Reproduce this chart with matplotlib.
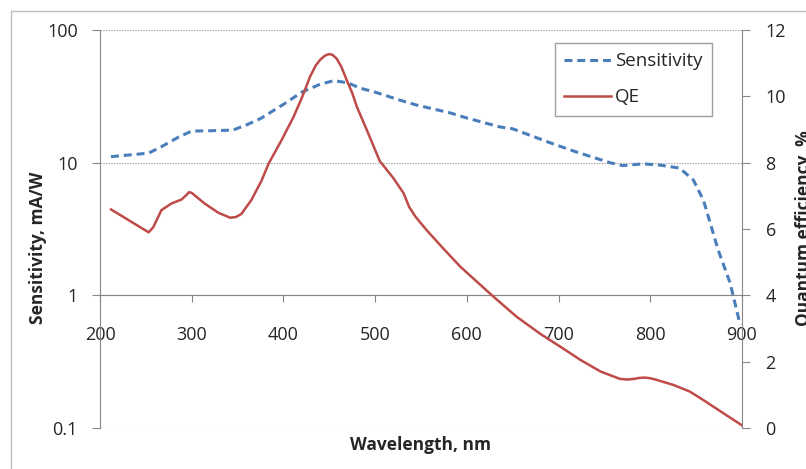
import matplotlib
matplotlib.use("Agg")
import matplotlib.pyplot as plt
from matplotlib.patches import Rectangle
from matplotlib.lines import Line2D

plt.rcParams['font.family'] = ['Open Sans', 'DejaVu Sans']

# Sensitivity (mA/W), left log axis
wl_sens = [212, 253, 267, 285, 300, 320, 345, 360, 375, 400, 420, 440, 455, 470, 484,
           500, 527, 545, 582, 600, 636, 650, 691, 720, 756, 770, 792, 810, 832, 847,
           858, 874, 887, 898]
sens = [11.1, 11.8, 13.2, 15.5, 17.3, 17.4, 17.6, 19.3, 21.5, 27.5, 34.0, 39.0, 41.5, 40.0, 36.4,
        34.0, 29.6, 27.2, 23.7, 21.7, 18.6, 18.0, 14.1, 12.0, 10.0, 9.5, 9.8, 9.6, 9.1, 7.4,
        5.2, 2.2, 1.24, 0.6]

# Quantum efficiency (%), right linear axis
wl_qe = [212, 253, 258, 267, 278, 289, 294, 297, 300, 303, 314, 329, 342, 348, 354, 365, 376, 384,
         398, 411, 420, 429, 435, 440, 445, 449, 453, 458, 463, 469, 475, 480, 486, 491, 505, 520,
         531, 537, 544, 556, 574, 593, 611, 629, 654, 680, 702, 724, 746, 767, 775, 782, 788, 794,
         800, 807, 825, 843, 858, 880, 900]
qe = [6.59, 5.90, 6.05, 6.57, 6.77, 6.89, 7.02, 7.11, 7.09, 7.02, 6.77, 6.49, 6.34, 6.36, 6.45,
      6.87, 7.45, 7.98, 8.68, 9.38, 9.95, 10.59, 10.92, 11.10, 11.22, 11.27, 11.26, 11.14, 10.90,
      10.49, 10.10, 9.69, 9.30, 8.98, 8.05, 7.53, 7.08, 6.67, 6.37, 5.97, 5.42, 4.86, 4.41, 3.96,
      3.36, 2.84, 2.45, 2.05, 1.70, 1.48, 1.46, 1.48, 1.51, 1.52, 1.50, 1.45, 1.30, 1.10, 0.84,
      0.44, 0.08]

x_ticks = [200, 300, 400, 500, 600, 700, 800, 900]
left_ticks = [0.1, 1, 10, 100]
left_labels = ['0.1', '1', '10', '100']
right_ticks = [0, 2, 4, 6, 8, 10, 12]

BLUE = '#4A7EBB'
RED = '#BE4B48'
GRAY = '#868686'
TXT = '#262626'

W, H = 806, 469
fig = plt.figure(figsize=(W / 100, H / 100), dpi=100)
fig.patch.set_facecolor('white')

# outer chart border
fig.patches.append(Rectangle((11 / W, -0.5), 2, 1 - 11 / H + 0.5, transform=fig.transFigure,
                             fill=False, edgecolor='#BFBFBF', lw=1.0))

ax = fig.add_axes([100 / W, 1 - 428 / H, 642 / W, 398 / H])
ax.set_xlim(200, 900)
ax.set_yscale('log')
ax.set_ylim(0.1, 100)
ax.set_xticks(x_ticks)
ax.set_xticklabels([str(t) for t in x_ticks])
ax.set_yticks(left_ticks)
ax.set_yticklabels(left_labels)
ax.yaxis.set_minor_locator(matplotlib.ticker.NullLocator())
ax.grid(axis='y', which='major', color='#A0A0A0', linestyle=(0, (1.2, 1.2)), lw=0.8)
ax.set_axisbelow(True)

for s in ['top', 'right']:
    ax.spines[s].set_visible(False)
ax.spines['left'].set_color(GRAY)
ax.spines['bottom'].set_color(GRAY)
ax.spines['bottom'].set_position(('data', 1))
ax.tick_params(axis='y', direction='out', length=6, color=GRAY, labelsize=13, labelcolor=TXT, pad=10)
ax.tick_params(axis='x', direction='out', length=5, color=GRAY, labelsize=13, labelcolor=TXT, pad=17)

ax.plot(wl_sens, sens, color=BLUE, lw=2.2, linestyle=(0, (2.6, 1.6)), solid_capstyle='butt',
        dash_capstyle='butt', solid_joinstyle='round', zorder=3)

ax2 = ax.twinx()
ax2.set_ylim(0, 12)
ax2.set_yticks(right_ticks)
for s in ['top', 'left', 'bottom']:
    ax2.spines[s].set_visible(False)
ax2.spines['right'].set_color(GRAY)
ax2.tick_params(axis='y', direction='out', length=6, color=GRAY, labelsize=13, labelcolor=TXT, pad=11)
ax2.plot(wl_qe, qe, color=RED, lw=1.8, solid_joinstyle='round', zorder=4)

# axis labels
fig.text(38 / W, 1 - 248 / H, 'Sensitivity, mA/W', rotation=90, ha='center', va='center',
         fontsize=12.5, fontweight='bold', color=TXT)
fig.text(420 / W, 1 - 445 / H, 'Wavelength, nm', ha='center', va='center',
         fontsize=12.5, fontweight='bold', color=TXT)
fig.text(795 / W, 1 - 228 / H, 'Quantum efficiency, %', rotation=90, ha='left', va='center',
         fontsize=12.5, fontweight='bold', color=TXT)

handles = [Line2D([], [], color=BLUE, lw=2.2, linestyle=(0, (2.6, 1.6))),
           Line2D([], [], color=RED, lw=1.8)]
leg = ax2.legend(handles, ['Sensitivity', 'QE'], loc='upper left',
                 bbox_to_anchor=((555 - 100) / 642, (428 - 43) / 398), borderaxespad=0,
                 fancybox=False, frameon=True, fontsize=13.5, handlelength=2.5,
                 handletextpad=0.2, labelspacing=0.95, borderpad=0.5)
leg.get_frame().set_edgecolor(GRAY)
leg.get_frame().set_linewidth(1.0)
for t in leg.get_texts():
    t.set_color(TXT)

fig.savefig('out.png', dpi=100)
